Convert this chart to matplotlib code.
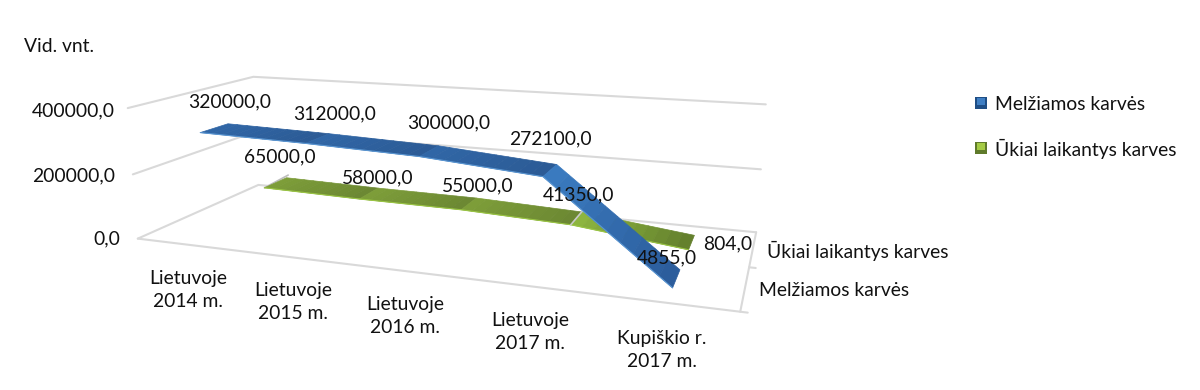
import numpy as np
import matplotlib
matplotlib.use("Agg")
import matplotlib.pyplot as plt
from matplotlib.colors import to_rgb
from matplotlib.patches import Rectangle
from mpl_toolkits.mplot3d.art3d import Poly3DCollection

categories = ["Lietuvoje\n2014 m.", "Lietuvoje\n2015 m.", "Lietuvoje\n2016 m.", "Lietuvoje\n2017 m.", "Kupiškio r.\n2017 m."]
series_names = ["Melžiamos karvės", "Ūkiai laikantys karves"]
milked_cows = [320000.0, 312000.0, 300000.0, 272100.0, 4855.0]
cow_farms = [65000.0, 58000.0, 55000.0, 41350.0, 804.0]
value_ticks = [0.0, 200000.0, 400000.0]
value_labels = ["0,0", "200000,0", "400000,0"]

# pixel centres of the text, same order as the lists above
cat_pos = [(188, 290), (293, 302), (405, 316), (530, 332), (662, 350)]
milk_pos = [(230, 102), (335, 114), (449, 123), (550, 139), (667, 258)]
farm_pos = [(280, 157), (378, 178), (478, 186), (579, 195), (728, 244)]
tick_pos = [(120, 239), (115, 176), (115, 111)]

plt.rcParams["font.family"] = ["Lato", "DejaVu Sans"]
W, H = 1200, 390
FS = 13.9
GRID = "#D9D9D9"
INK = "#111111"

fig = plt.figure(figsize=(W / 100, H / 100), dpi=100)
ax = fig.add_axes([0, 0, 1, 1], projection="3d", computed_zorder=False)
ax.set_axis_off()
ax.patch.set_visible(False)

x0, x1 = -0.5, 4.5
y0, y1 = -0.5, 1.5
z1 = value_ticks[-1]
ax.set_xlim(x0, x1, view_margin=0)
ax.set_ylim(y0, y1, view_margin=0)
ax.set_zlim(0, z1, view_margin=0)

# camera found by fitting the floor and wall corners of the picture
ax.view_init(13.4407, -70.1443)
ax.set_proj_type("persp", focal_length=0.2917)
ax.set_box_aspect((1, np.exp(-0.9139), np.exp(-1.4796)))
scale, ox, oy = 3370.031, 450.26, 218.18
vl = ax.viewLim
side = scale * vl.width
ax.set_position([(ox + scale * vl.x0) / W, (oy + scale * vl.y0) / H, side / W, side / H])


def line3(xs, ys, zs, color=GRID, lw=1.5, z=1):
    ax.plot(xs, ys, zs, color=color, lw=lw, zorder=z, clip_on=False, solid_capstyle="round")


# walls and floor
for v in value_ticks:
    line3([x0, x0, x1], [y0, y1, y1], [v, v, v])
line3([x0, x1, x1], [y0, y0, y1], [0, 0, 0])
line3([x1, x1 + 0.05], [y0, y0], [0, 0])
line3([x1, x1 + 0.05], [0.5, 0.5], [0, 0])


def mix(a, b, t):
    a, b = np.array(to_rgb(a)), np.array(to_rgb(b))
    return tuple(a + (b - a) * t)


HALF = 0.215


def ribbon(values, depth, light, dark, last_light, last_dark, edge, z):
    n = 10
    polys, cols = [], []
    for i in range(len(values) - 1):
        last = i == len(values) - 2
        for k in range(n):
            t0, t1 = k / n, (k + 1) / n
            a = i + t0
            b = i + t1
            za = values[i] + (values[i + 1] - values[i]) * t0
            zb = values[i] + (values[i + 1] - values[i]) * t1
            polys.append([(a, depth - HALF, za), (b, depth - HALF, zb), (b, depth + HALF, zb), (a, depth + HALF, za)])
            c = mix(last_light, last_dark, t0) if last else mix(light, dark, t0)
            cols.append(c)
    pc = Poly3DCollection(polys, facecolors=cols, edgecolors=cols, linewidths=0.5, shade=False, zorder=z)
    pc.set_clip_on(False)
    ax.add_collection3d(pc)
    line3(range(len(values)), [depth - HALF] * len(values), values, color=edge, lw=0.8, z=z + 0.1)


# grey stub behind the start of the green ribbon
line3([0, -0.04], [1 - HALF, 1 + 0.32], [cow_farms[0], cow_farms[0]], color="#BDBDBD", lw=1.2, z=1.5)
ribbon(cow_farms, 1, "#7D9D39", "#6A8632", "#8DB53F", "#5F7A2B", "#9AC544", 2)
line3([3, 3], [1 - HALF, 1 + HALF], [cow_farms[3], cow_farms[3]], color="#C8C8C8", lw=1.2, z=3)
ribbon(milked_cows, 0, "#3066A6", "#2B5A94", "#3A7ABF", "#2A5A98", "#5A96D2", 4)


def txt(x, y, s, ha="center", **kw):
    fig.text(x / W, 1 - y / H, s, ha=ha, va="center", fontsize=FS, color=INK, linespacing=1.42, **kw)


def num(v):
    return f"{v:.1f}".replace(".", ",")


txt(24, 47, "Vid. vnt.", ha="left")
for lab, p in zip(value_labels, tick_pos):
    txt(p[0], p[1], lab, ha="right")
for lab, p in zip(categories, cat_pos):
    txt(p[0], p[1], lab)
for v, p in zip(milked_cows, milk_pos):
    txt(p[0], p[1], num(v))
for v, p in zip(cow_farms, farm_pos):
    txt(p[0], p[1], num(v))
txt(767, 251, series_names[1], ha="left")
txt(759, 290, series_names[0], ha="left")

# legend
legend_cols = [("#1F4E85", "#3F7FC4"), ("#5F7A2B", "#A5CB45")]
for name, y, (out, inner) in zip(series_names, [103, 148], legend_cols):
    fig.add_artist(Rectangle(((975) / W, 1 - (y + 6) / H), 12 / W, 12 / H, transform=fig.transFigure, fc=out, ec="none"))
    fig.add_artist(Rectangle(((977) / W, 1 - (y + 2) / H), 8 / W, 7 / H, transform=fig.transFigure, fc=inner, ec="none"))
    txt(995, y + 1, name, ha="left")

fig.savefig("out.png", dpi=100)
